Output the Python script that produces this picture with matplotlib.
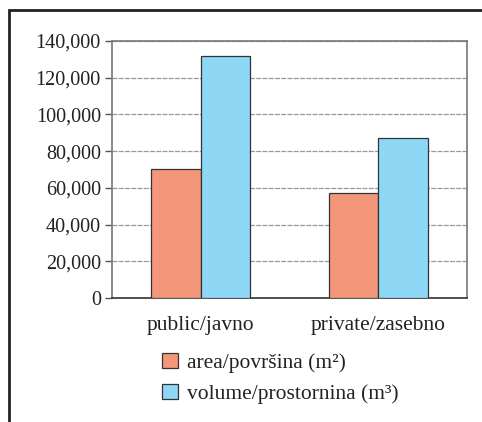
import matplotlib
matplotlib.use("Agg")
import matplotlib.pyplot as plt
from matplotlib.patches import Rectangle
import numpy as np

categories = ["public/javno", "private/zasebno"]
series_names = ["area/površina (m²)", "volume/prostornina (m³)"]
area = [70300, 57000]
volume = [132000, 87000]
yticks = [0, 20000, 40000, 60000, 80000, 100000, 120000, 140000]

plt.rcParams['font.family'] = ['Liberation Serif', 'DejaVu Serif']

W, H = 482, 422
fig = plt.figure(figsize=(W/100, H/100), dpi=100)
ax = fig.add_axes([112/W, 1-298/H, 355/W, 257/H])

x = np.arange(len(categories))
bw = 0.28
ax.bar(x - bw/2, area, bw, color="#F4967A", edgecolor="#333333", linewidth=0.9, label=series_names[0], zorder=3)
ax.bar(x + bw/2, volume, bw, color="#8ED8F6", edgecolor="#333333", linewidth=0.9, label=series_names[1], zorder=3)

ax.set_xlim(-0.5, 1.5)
ax.set_ylim(0, 140000)
ax.set_yticks(yticks)
ax.set_yticklabels([f"{v:,}" for v in yticks], fontsize=14.5, color="#222222")
ax.set_xticks(x)
ax.set_xticklabels(categories, fontsize=15.5, color="#222222")
ax.tick_params(axis='x', length=0, pad=13)
ax.tick_params(axis='y', length=5, width=1, color="#555555", pad=3)
ax.yaxis.grid(True, color="#999999", linestyle=(0, (4, 1)), linewidth=0.9, zorder=0)
for s in ax.spines.values():
    s.set_color("#777777")
    s.set_linewidth(1.2)
ax.spines['bottom'].set_color("#333333")

leg = fig.legend(loc="upper left", bbox_to_anchor=(162/W, 1-353/H), frameon=False,
                 fontsize=15.5, handlelength=0.72, handleheight=0.72, handletextpad=0.45,
                 labelspacing=0.48, borderaxespad=0.0, borderpad=0.0)
for t in leg.get_texts():
    t.set_color("#222222")

fig.patches.append(Rectangle((8.5/W, -0.1), 1.2, 1 - 9.5/H + 0.1, transform=fig.transFigure,
                             fill=False, edgecolor="#222222", linewidth=2))

fig.savefig("out.png", dpi=100)
